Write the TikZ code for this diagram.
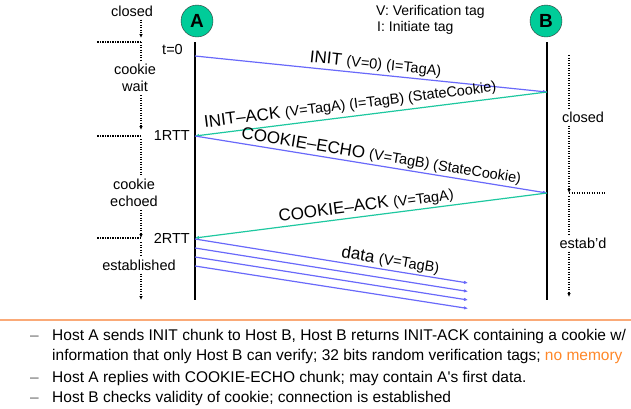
\documentclass[tikz,border=0pt]{standalone}
\usepackage{fontspec}
\setmainfont{Liberation Sans}
\usetikzlibrary{arrows.meta}
\definecolor{hostgreen}{RGB}{0,204,153}
\definecolor{sendblue}{RGB}{105,105,250}
\definecolor{ackgreen}{RGB}{30,200,160}
\definecolor{ruleorange}{RGB}{250,170,120}
\definecolor{noteorange}{RGB}{255,135,40}
\newcommand{\tagtext}[1]{{\fontsize{14.5}{16}\selectfont #1}}

\begin{document}
\begin{tikzpicture}[x=1pt,y=-1pt,
    host/.style={circle,draw=black!80,fill=hostgreen,minimum size=32pt,inner sep=0pt,
      font=\fontsize{19}{19}\selectfont\bfseries},
    life/.style={line width=2.8pt},
    sendmsg/.style={sendblue,line width=1.2pt,-{Latex[length=4pt,width=3.5pt]}},
    ackmsg/.style={ackgreen,line width=1.2pt,-{Latex[length=4pt,width=3.5pt]}},
    msglabel/.style={sloped,above,text=black,inner sep=2pt,font=\fontsize{17}{19}\selectfont},
    state/.style={align=center,inner sep=3pt,font=\fontsize{14.5}{17}\selectfont},
    legend/.style={anchor=base west,inner sep=0pt,font=\fontsize{14}{16}\selectfont},
    timeline/.style={line width=1.2pt,dash pattern=on 1.2pt off 1.3pt},
    timearrow/.style={timeline,-{Latex[length=4pt,width=3.5pt]}},
    note/.style={anchor=base west,inner sep=0pt,font=\fontsize{15.5}{18}\selectfont},
  ]
  \useasboundingbox (0,0) rectangle (631,408);

  % hosts and life lines
  \node[host] (A) at (197,21) {A};
  \node[host] (B) at (546,21) {B};
  \coordinate (Atop) at (195,42);
  \coordinate (Abot) at (195,300);
  \coordinate (Btop) at (547,42);
  \coordinate (Bbot) at (547,300);
  \draw[life] (Atop) -- (Abot);
  \draw[life] (Btop) -- (Bbot);

  \node[legend] (legV) at (376,15) {V: Verification tag};
  \node[legend] (legI) at (377,31) {I: Initiate tag};

  % handshake
  \coordinate (a0) at (195,56);
  \coordinate (b0) at (547,92);
  \coordinate (a1) at (195,136);
  \coordinate (b1) at (547,193);
  \coordinate (a2) at (195,238);
  \draw[sendmsg] (a0) -- node[msglabel,pos=.51] {INIT \tagtext{(V=0) (I=TagA)}} (b0);
  \draw[ackmsg] (b0) -- node[msglabel,pos=.555,inner sep=3.5pt] {INIT–ACK \tagtext{(V=TagA) (I=TagB) (StateCookie)}} (a1);
  \draw[sendmsg] (a1) -- node[msglabel,pos=.525,inner sep=1.5pt] {COOKIE–ECHO \tagtext{(V=TagB) (StateCookie)}} (b1);
  \draw[ackmsg] (b1) -- node[msglabel,pos=.51] {COOKIE–ACK \tagtext{(V=TagA)}} (a2);

  \foreach \i in {0,...,3} {
    \coordinate (d\i) at (195,239+9*\i);
    \coordinate (e\i) at (468,283+8.5*\i);
    \draw[sendmsg] (d\i) -- (e\i);
  }
  \path (d0) -- node[msglabel,pos=.71] {data \tagtext{(V=TagB)}} (e0);

  % states of A
  \node[state,anchor=east] (t0) at (186,50) {t=0};
  \node[state,anchor=east] (rtt1) at (193,136) {1RTT};
  \node[state,anchor=east] (rtt2) at (193,238) {2RTT};
  \node[state] (closedA) at (132,11) {closed};
  \node[state] (waitA) at (135,78) {cookie\\wait};
  \node[state] (echoA) at (134,193) {cookie\\echoed};
  \node[state] (estA) at (139,265) {established};
  \coordinate (tick0) at (141,42);
  \coordinate (tick1) at (141,136);
  \coordinate (tick2) at (141,238);
  \coordinate (endA) at (141,300);
  \foreach \t in {tick0,tick1,tick2} {
    \draw[timeline] (\t) -- ++(-44,0);
  }
  \draw[timearrow,shorten >=4pt] (closedA.south -| tick0) -- (tick0);
  \draw[timeline] (tick0) -- (waitA.north -| tick0);
  \draw[timearrow,shorten >=6pt] (waitA.south -| tick1) -- (tick1);
  \draw[timeline] ([yshift=-3pt]tick1) -- (echoA.north -| tick1);
  \draw[timearrow] (echoA.south -| tick2) -- (tick2);
  \draw[timeline] ([yshift=-4pt]tick2) -- (estA.north -| tick2);
  \draw[timearrow] (estA.south -| tick2) -- (endA);

  % states of B
  \node[state] (closedB) at (583,117) {closed};
  \node[state] (estB) at (583,243) {estab'd};
  \coordinate (topB) at (569,55);
  \coordinate (tickB) at (569,193);
  \coordinate (tickBe) at (605,193);
  \coordinate (endB) at (569,297);
  \draw[timeline] (topB) -- (closedB.north -| topB);
  \draw[timearrow] (closedB.south -| topB) -- (tickB);
  \draw[timeline] (tickB) -- (tickBe);
  \draw[timeline] ([yshift=-3pt]tickB) -- (estB.north -| tickB);
  \draw[timearrow] (estB.south -| tickB) -- (endB);

  % notes
  \coordinate (ruleW) at (0,320);
  \coordinate (ruleE) at (631,320);
  \draw[ruleorange,line width=2.5pt] (ruleW) -- (ruleE);
  \node[note] (n1) at (52,340) {Host A sends INIT chunk to Host B, Host B returns INIT-ACK containing a cookie w/};
  \node[note] (n1b) at (52,360) {information that only Host B can verify; 32 bits random verification tags; \textcolor{noteorange}{no memory}};
  \node[note] (n2) at (52,382) {Host A replies with COOKIE-ECHO chunk; may contain A\textquotesingle s first data.};
  \node[note] (n3) at (52,402.5) {Host B checks validity of cookie; connection is established};
  \foreach \y in {340,382,402.5} {
    \node[note,text=black!60] at (30,\y) {–};
  }
\end{tikzpicture}
\end{document}
